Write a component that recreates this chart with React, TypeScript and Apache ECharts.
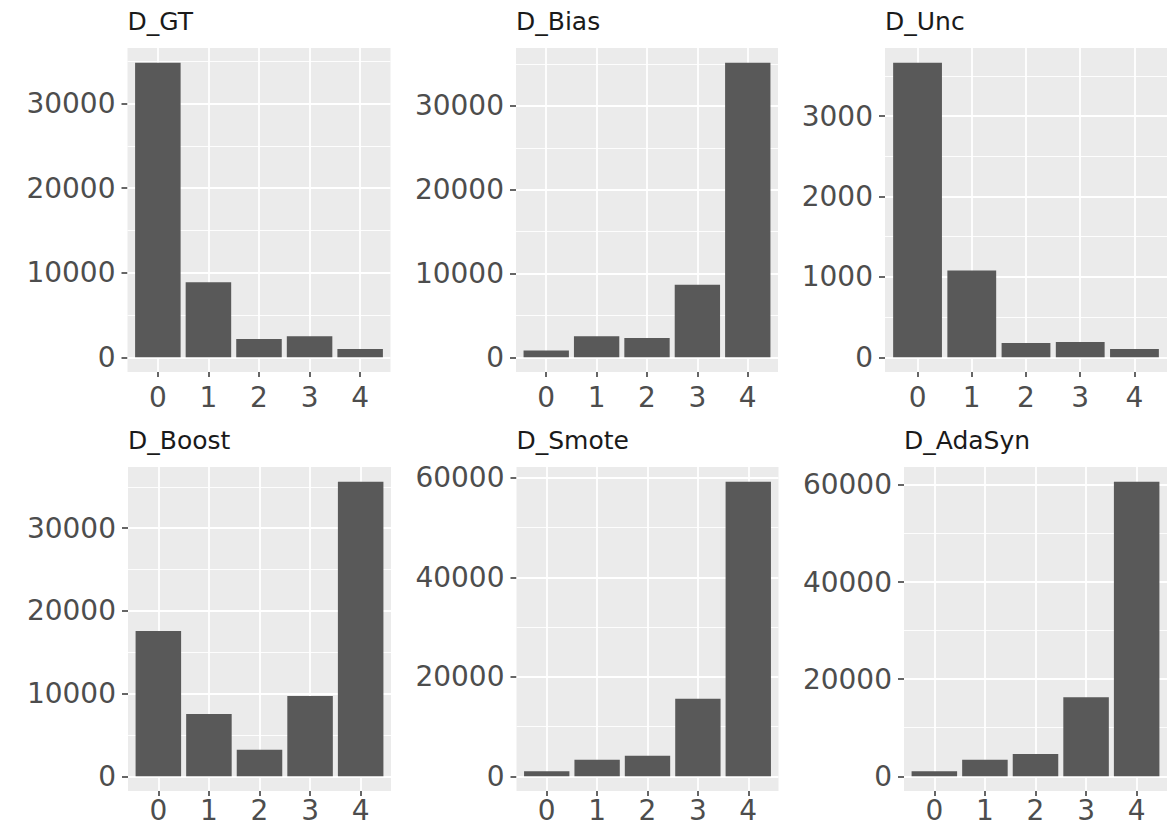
import React, { useEffect, useRef } from "react";
import * as echarts from "echarts";

const categories = [0, 1, 2, 3, 4];

const panelNames = ["D_GT", "D_Bias", "D_Unc", "D_Boost", "D_Smote", "D_AdaSyn"];

const valuesGT = [34830, 8860, 2170, 2480, 990];
const valuesBias = [800, 2500, 2310, 8660, 35160];
const valuesUnc = [3665, 1081, 179, 191, 104];
const valuesBoost = [17570, 7545, 3210, 9710, 35620];
const valuesSmote = [1000, 3330, 4130, 15600, 59200];
const valuesAdaSyn = [1025, 3420, 4590, 16270, 60650];

const ticksGT = [0, 10000, 20000, 30000];
const ticksBias = [0, 10000, 20000, 30000];
const ticksUnc = [0, 1000, 2000, 3000];
const ticksBoost = [0, 10000, 20000, 30000];
const ticksSmote = [0, 20000, 40000, 60000];
const ticksAdaSyn = [0, 20000, 40000, 60000];

const minorGT = [5000, 15000, 25000, 35000];
const minorBias = [5000, 15000, 25000, 35000];
const minorUnc = [500, 1500, 2500, 3500];
const minorBoost = [5000, 15000, 25000, 35000];
const minorSmote = [10000, 30000, 50000];
const minorAdaSyn = [10000, 30000, 50000];

const allValues = [valuesGT, valuesBias, valuesUnc, valuesBoost, valuesSmote, valuesAdaSyn];
const allTicks = [ticksGT, ticksBias, ticksUnc, ticksBoost, ticksSmote, ticksAdaSyn];
const allMinor = [minorGT, minorBias, minorUnc, minorBoost, minorSmote, minorAdaSyn];

// panel layout (pixels)
const layout = [
  { left: 127.5, top: 48, width: 263, height: 324, xMargin: 11 },
  { left: 516, top: 48, width: 262, height: 324, xMargin: 11 },
  { left: 885, top: 48, width: 282, height: 324, xMargin: 11 },
  { left: 128, top: 467, width: 263, height: 324, xMargin: 5 },
  { left: 516.5, top: 467, width: 262, height: 324, xMargin: 5 },
  { left: 904, top: 467, width: 263, height: 324, xMargin: 5 },
];

const FONT = "DejaVu Sans";

export default function App() {
  const ref = useRef<HTMLDivElement>(null);

  useEffect(() => {
    if (!ref.current) return;
    const chart = echarts.init(ref.current, undefined, { renderer: "svg" });

    const grids: any[] = [];
    const xAxes: any[] = [];
    const yAxes: any[] = [];
    const series: any[] = [];
    const titles: any[] = [];

    panelNames.forEach((name, i) => {
      const L = layout[i];
      const vals = allValues[i];
      const maxV = Math.max(...vals);
      const pad = maxV * 0.05;
      grids.push({
        left: L.left,
        top: L.top,
        width: L.width,
        height: L.height,
        show: true,
        backgroundColor: "#ebebeb",
        borderWidth: 0,
        containLabel: false,
      });
      titles.push({
        text: name,
        left: L.left,
        top: L.top - 39,
        padding: 0,
        textStyle: { fontFamily: FONT, fontSize: 25, fontWeight: "normal", color: "#1a1a1a" },
      });
      xAxes.push({
        type: "value",
        gridIndex: i,
        position: "bottom",
        min: -0.6,
        max: 4.6,
        axisLine: { show: false, onZero: false },
        splitLine: { show: false },
        axisTick: {
          show: true,
          customValues: categories,
          length: 5,
          lineStyle: { color: "#333333", width: 1.5 },
        },
        axisLabel: {
          customValues: categories,
          margin: L.xMargin,
          fontFamily: FONT,
          fontSize: 28,
          color: "#4d4d4d",
          formatter: (v: number) => String(v),
        },
      });
      yAxes.push({
        type: "value",
        gridIndex: i,
        position: "left",
        min: -pad,
        max: maxV + pad,
        axisLine: { show: false, onZero: false },
        splitLine: { show: false },
        axisTick: {
          show: true,
          customValues: allTicks[i],
          length: 6,
          lineStyle: { color: "#333333", width: 1.5 },
        },
        axisLabel: {
          customValues: allTicks[i],
          margin: 12,
          fontFamily: FONT,
          fontSize: 28,
          color: "#4d4d4d",
          formatter: (v: number) => String(v),
        },
      });
      const lines: any[] = [];
      allTicks[i].forEach((t) => lines.push({ yAxis: t, lineStyle: { width: 1.8 } }));
      allMinor[i].forEach((t) => lines.push({ yAxis: t, lineStyle: { width: 0.9 } }));
      categories.forEach((c) => lines.push({ xAxis: c, lineStyle: { width: 1.8 } }));
      series.push({
        type: "bar",
        xAxisIndex: i,
        yAxisIndex: i,
        z: 3,
        barWidth: "90%",
        itemStyle: { color: "#595959" },
        data: categories.map((c, j) => [c, vals[j]]),
        markLine: {
          silent: true,
          z: 1,
          symbol: "none",
          label: { show: false },
          lineStyle: { color: "#ffffff", type: "solid" },
          emphasis: { disabled: true },
          data: lines,
        },
      });
    });

    chart.setOption({
      animation: false,
      backgroundColor: "#ffffff",
      title: titles,
      grid: grids,
      xAxis: xAxes,
      yAxis: yAxes,
      series,
    });

    return () => chart.dispose();
  }, []);

  return (
    <div
      ref={ref}
      style={{ position: "absolute", left: 0, top: 0, width: 1174, height: 828, background: "#fff" }}
    />
  );
}
